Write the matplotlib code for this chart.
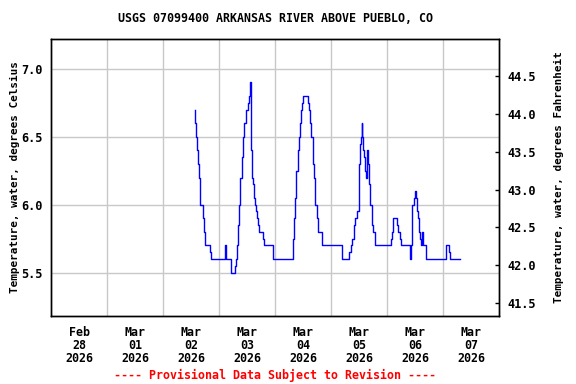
import matplotlib
matplotlib.use("Agg")
import matplotlib.pyplot as plt
import matplotlib.dates as mdates
from matplotlib.ticker import FixedLocator, FormatStrFormatter
from datetime import datetime, timedelta

# hours after 2026-03-02 00:00 where the reading changes, and the reading (deg C)
hours = [1.5, 1.6, 2.0, 2.4, 3.0, 3.3, 3.8, 4.0, 5.0, 5.4, 5.8, 8.1, 8.5,
         14.6, 15.1, 17.3, 18.7, 19.1, 19.6, 20.1, 20.7, 21.1, 21.7, 22.1,
         22.8, 23.6, 24.3, 24.7, 25.1, 25.4, 25.6, 26.1, 26.7, 27.1, 27.6,
         28.0, 28.4, 28.8, 29.3, 31.0, 31.4, 35.0, 43.5, 44.1, 44.5, 45.1,
         45.7, 46.1, 46.6, 47.2, 47.7, 48.1, 50.0, 50.4, 50.9, 51.6, 52.1,
         52.7, 53.3, 53.8, 54.3, 56.0, 64.6, 67.9, 68.6, 69.2, 69.8, 70.1,
         71.3, 71.8, 72.1, 72.6, 72.9, 73.1, 73.3, 73.6, 74.3, 74.7, 75.0,
         75.3, 75.8, 76.0, 76.4, 76.9, 77.4, 77.9, 78.8, 85.5, 86.0, 86.6,
         88.4, 88.9, 89.4, 90.0, 93.7, 94.0, 94.1, 94.4, 94.7, 94.9, 95.4,
         95.8, 96.5, 96.7, 97.4, 97.8, 98.3, 98.6, 98.9, 99.0, 99.5, 100.6,
         109.4, 110.4, 110.8, 115.1]
temps = [6.7, 6.6, 6.5, 6.4, 6.3, 6.2, 6.1, 6.0, 5.9, 5.8, 5.7, 5.65, 5.6,
         5.7, 5.6, 5.5, 5.55, 5.6, 5.7, 5.85, 6.0, 6.2, 6.35, 6.5,
         6.6, 6.7, 6.75, 6.8, 6.85, 6.9, 6.4, 6.2, 6.15, 6.05, 6.0,
         5.95, 5.9, 5.85, 5.8, 5.75, 5.7, 5.6, 5.75, 5.9, 6.05, 6.25,
         6.4, 6.5, 6.6, 6.7, 6.75, 6.8, 6.75, 6.7, 6.6, 6.5, 6.3,
         6.2, 6.0, 5.9, 5.8, 5.7, 5.6, 5.65, 5.7, 5.75, 5.85, 5.9,
         5.95, 6.05, 6.3, 6.45, 6.5, 6.6, 6.5, 6.4, 6.35, 6.25, 6.2,
         6.4, 6.35, 6.3, 6.15, 6.0, 5.85, 5.8, 5.7, 5.75, 5.8, 5.9,
         5.85, 5.8, 5.75, 5.7, 5.65, 5.6, 5.65, 5.7, 5.8, 6.0, 6.05,
         6.1, 6.05, 5.95, 5.9, 5.8, 5.75, 5.7, 5.75, 5.8, 5.7, 5.6,
         5.7, 5.65, 5.6, 5.6]

day_labels = ["Feb\n28\n2026", "Mar\n01\n2026", "Mar\n02\n2026", "Mar\n03\n2026",
              "Mar\n04\n2026", "Mar\n05\n2026", "Mar\n06\n2026", "Mar\n07\n2026"]
c_ticks = [5.5, 6.0, 6.5, 7.0]
f_ticks = [41.5, 42.0, 42.5, 43.0, 43.5, 44.0, 44.5]
c_lim = (5.18, 7.22)

base = datetime(2026, 3, 2)
times = [base + timedelta(hours=h) for h in hours]
first_day = datetime(2026, 2, 28)
days = [first_day + timedelta(days=i) for i in range(len(day_labels))]
noons = [d + timedelta(hours=12) for d in days[:-1]]

font = {"family": "DejaVu Sans Mono", "weight": "bold"}

fig = plt.figure(figsize=(5.76, 3.84), dpi=100)
ax = fig.add_axes([51 / 576, 1 - 316 / 384, 448 / 576, 277 / 384])

ax.plot(times, temps, color="#0000ff", lw=1.0, drawstyle="steps-post")

ax.set_xlim(first_day - timedelta(hours=12), days[-1] + timedelta(hours=12))
ax.set_ylim(*c_lim)

ax.xaxis.set_major_locator(FixedLocator(mdates.date2num(days)))
ax.set_xticklabels(day_labels, fontdict=font, fontsize=8.4, linespacing=1.0)
ax.xaxis.set_minor_locator(FixedLocator(mdates.date2num(noons)))
ax.tick_params(axis="x", which="both", length=0, pad=7)
ax.grid(True, axis="x", which="minor", color="#c8c8c8", lw=1)

ax.set_yticks(c_ticks)
ax.yaxis.set_major_formatter(FormatStrFormatter("%.1f"))
for lab in ax.get_yticklabels():
    lab.set_fontfamily(font["family"])
    lab.set_fontweight("bold")
    lab.set_fontsize(8.6)
ax.tick_params(axis="y", length=0, pad=6)
ax.grid(True, axis="y", which="major", color="#c8c8c8", lw=1)
ax.set_ylabel("Temperature, water, degrees Celsius", fontdict=font, fontsize=7.9, labelpad=1)

ax2 = ax.twinx()
ax2.set_ylim(c_lim[0] * 1.8 + 32, c_lim[1] * 1.8 + 32)
ax2.set_yticks(f_ticks)
ax2.yaxis.set_major_formatter(FormatStrFormatter("%.1f"))
for lab in ax2.get_yticklabels():
    lab.set_fontfamily(font["family"])
    lab.set_fontweight("bold")
    lab.set_fontsize(8.6)
ax2.tick_params(axis="y", direction="in", length=3, width=1, pad=6)
ax2.set_ylabel("Temperature, water, degrees Fahrenheit", fontdict=font, fontsize=7.9, labelpad=13)

for a in (ax, ax2):
    for s in a.spines.values():
        s.set_linewidth(1)
        s.set_color("black")

fig.text(275 / 576, 1 - 19 / 384, "USGS 07099400 ARKANSAS RIVER ABOVE PUEBLO, CO",
         ha="center", va="center", fontdict=font, fontsize=8.4)
fig.text(275 / 576, 1 - 375 / 384, "---- Provisional Data Subject to Revision ----",
         ha="center", va="center", color="red", fontdict=font, fontsize=8.4)

fig.savefig("out.png", dpi=100)
